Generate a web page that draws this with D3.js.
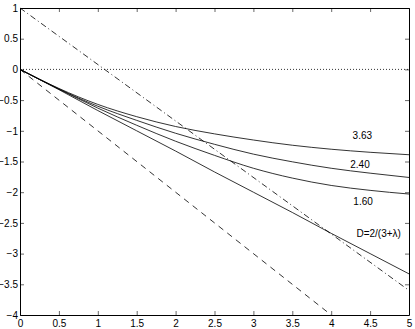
<!DOCTYPE html>
<html>
<head>
<meta charset="utf-8">
<script src="https://cdn.jsdelivr.net/npm/d3@7"></script>
<style>
	body { margin:0; background:#fff; }
	svg text { font-family:"Liberation Sans", Arial, sans-serif; font-size:10px; fill:#000; }
</style>
</head>
<body>
<svg id="chart" width="415" height="329"></svg>
<script>

// data
var xs		= [0, 0.5, 1, 1.5, 2, 2.5, 3, 3.5, 4, 4.5, 5];
var c363	= [0, -0.31, -0.57, -0.77, -0.93, -1.05, -1.15, -1.235, -1.30, -1.35, -1.39];
var c240	= [0, -0.32, -0.60, -0.83, -1.04, -1.22, -1.38, -1.505, -1.61, -1.69, -1.76];
var c160	= [0, -0.32, -0.63, -0.91, -1.17, -1.40, -1.61, -1.77, -1.89, -1.97, -2.03];
var cD		= [0, -0.33, -0.67, -1.00, -1.33, -1.67, -2.00, -2.33, -2.67, -3.00, -3.33];

var dashX	= [0, 4],		dashY	= [0, -4];
var dotX	= [0, 5],		dotY	= [0, 0];
var ddX		= [0, 5],		ddY		= [1.0, -3.6];

var xTickVals = [0, 0.5, 1, 1.5, 2, 2.5, 3, 3.5, 4, 4.5, 5];
var yTickVals = [1, 0.5, 0, -0.5, -1, -1.5, -2, -2.5, -3, -3.5, -4];

var labels = [
	{ t:'3.63',				x:4.4,  y:-1.13 },
	{ t:'2.40',				x:4.37, y:-1.61 },
	{ t:'1.60',				x:4.41, y:-2.21 },
	{ t:'D=2/(3+\u03bb)',	x:4.61, y:-2.73 },
];


//------------------------------------------------------------------
//
//------------------------------------------------------------------
function drawChart()	{

	var m = { l:20, r:6, t:8, b:14 },
			W = 415, H = 329,
			x = d3.scaleLinear().domain([0,5]).range([m.l, W-m.r]),
			y = d3.scaleLinear().domain([-4,1]).range([H-m.b, m.t]),
			svg = d3.select('#chart');

	var pts = (X,Y)=>X.map((v,i)=>[v,Y[i]]);
	var line = d3.line().x(d=>x(d[0])).y(d=>y(d[1]));
	var curve = d3.line().x(d=>x(d[0])).y(d=>y(d[1])).curve(d3.curveMonotoneX);

	var plot = svg.append('g');

	// reference lines
	plot.append('path').datum(pts(dotX,dotY))
		.attr('d',line).attr('fill','none').attr('stroke','#000').attr('stroke-width',0.8)
		.attr('stroke-dasharray','1,2');

	plot.append('path').datum(pts(dashX,dashY))
		.attr('d',line).attr('fill','none').attr('stroke','#000').attr('stroke-width',0.8)
		.attr('stroke-dasharray','6,5');

	plot.append('path').datum(pts(ddX,ddY))
		.attr('d',line).attr('fill','none').attr('stroke','#000').attr('stroke-width',0.8)
		.attr('stroke-dasharray','6,3,1,3');

	// solid curves
	[c363, c240, c160, cD].forEach(c=>{
		plot.append('path').datum(pts(xs,c))
			.attr('d',curve).attr('fill','none').attr('stroke','#000').attr('stroke-width',0.8);
	});

	// axes, ticks inside, mirrored
	var tl = 4;
	var ax = svg.append('g');

	ax.append('g').attr('transform','translate(0,'+y(-4)+')')
		.call(d3.axisBottom(x).tickValues(xTickVals).tickSizeInner(-tl).tickSizeOuter(0).tickPadding(5).tickFormat(d3.format('')));
	ax.append('g').attr('transform','translate(0,'+y(1)+')')
		.call(d3.axisTop(x).tickValues(xTickVals).tickSizeInner(-tl).tickSizeOuter(0).tickFormat(''));
	ax.append('g').attr('transform','translate('+x(0)+',0)')
		.call(d3.axisLeft(y).tickValues(yTickVals).tickSizeInner(-tl).tickSizeOuter(0).tickPadding(2).tickFormat(d3.format('')));
	ax.append('g').attr('transform','translate('+x(5)+',0)')
		.call(d3.axisRight(y).tickValues(yTickVals).tickSizeInner(-tl).tickSizeOuter(0).tickFormat(''));

	ax.selectAll('.domain').attr('stroke','#000').attr('stroke-width',1);
	ax.selectAll('.tick line').attr('stroke','#000').attr('stroke-width',0.6);
	ax.selectAll('text').attr('font-family','"Liberation Sans", Arial, sans-serif').attr('font-size',9.5).attr('fill','#000');

	// curve labels
	svg.append('g').selectAll('text').data(labels).enter()
		.append('text')
			.attr('x',d=>x(d.x))
			.attr('y',d=>y(d.y))
			.attr('text-anchor','middle')
			.attr('font-size',10.5)
			.text(d=>d.t);

}

drawChart();

</script>
</body>
</html>
